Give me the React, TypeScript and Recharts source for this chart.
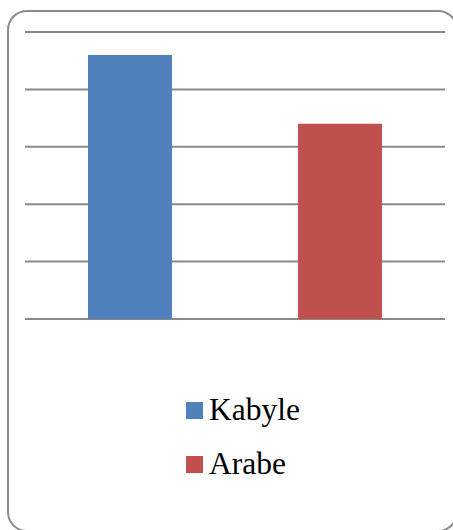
import { BarChart, Bar, XAxis, YAxis, CartesianGrid, Cell } from "recharts";

const languages = ["Kabyle", "Arabe"];
const shares = [46, 34];
const colors = ["#4F81BD", "#C0504D"];
const yTicks = [0, 10, 20, 30, 40, 50];

const data = languages.map((name, i) => ({ name, value: shares[i] }));

function LegendBox() {
  return (
    <div
      style={{
        position: "absolute", left: 186, top: 393,
        fontFamily: "'Liberation Serif', 'Times New Roman', serif", fontSize: 31.5, color: "#000",
      }}
    >
      {languages.map((name, i) => (
        <div key={name} style={{ display: "flex", alignItems: "center", height: 34, marginBottom: 20 }}>
          <span style={{ width: 17, height: 17, background: colors[i], marginRight: 6, display: "inline-block" }} />
          <span style={{ lineHeight: "34px" }}>{name}</span>
        </div>
      ))}
    </div>
  );
}

export default function App() {
  return (
    <div style={{ position: "fixed", left: 0, top: 0, width: 453, height: 530, overflow: "hidden", background: "#fff" }}>
      <div
        style={{
          position: "absolute", left: 7, top: 10, width: 451, height: 522,
          border: "2px solid #8c8c8c", borderRadius: 20, boxSizing: "border-box",
        }}
      />
      <div style={{ position: "absolute", left: 0, top: 0 }}>
        <BarChart width={453} height={530} data={data} margin={{ top: 32, right: 8, left: 25, bottom: 211 }}>
          <CartesianGrid horizontal vertical={false} stroke="#8a8a8a" strokeWidth={2} />
          <XAxis dataKey="name" hide />
          <YAxis hide domain={[0, 50]} ticks={yTicks} />
          <Bar dataKey="value" barSize={84} isAnimationActive={false}>
            {data.map((d, i) => (
              <Cell key={d.name} fill={colors[i]} />
            ))}
          </Bar>
        </BarChart>
      </div>
      <LegendBox />
    </div>
  );
}
